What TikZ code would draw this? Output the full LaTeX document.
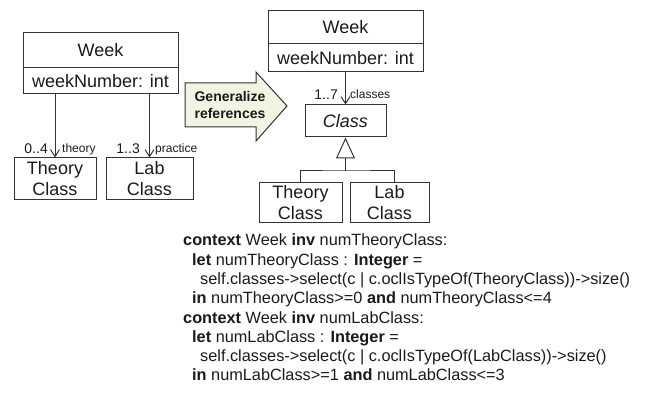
\documentclass[tikz,border=0pt]{standalone}
\usepackage{fontspec}
\setmainfont{Liberation Sans}
\usetikzlibrary{arrows.meta,calc}
\definecolor{ln}{HTML}{333333}
\definecolor{tx}{HTML}{1A1A1A}
\definecolor{genfill}{HTML}{F1F4E2}
\begin{document}
\begin{tikzpicture}[x=1pt,y=-1pt,
  every node/.style={text=tx},
  cbox/.style={draw=ln,line width=1pt,inner sep=0pt,font=\fontsize{18}{21}\selectfont,align=center},
  nav/.style={draw=ln,line width=1pt,-{Straight Barb[length=7pt,width=9pt,line width=1pt]}},
  mult/.style={font=\fontsize{14}{16}\selectfont,inner sep=0pt},
  role/.style={font=\fontsize{12}{14}\selectfont,inner sep=0pt},
  ocl/.style={font=\fontsize{16.3}{19}\selectfont,inner sep=0pt,anchor=base west}
]
\useasboundingbox (0,0) rectangle (648,395);
% ---------- left model ----------
\node[cbox,minimum width=155pt,minimum height=35pt] (w1) at (100.5,50.5) {Week};
\node[cbox,minimum width=155pt,minimum height=26pt] (w1a) at (100.5,81) {weekNumber: int};
\node[cbox,minimum width=82pt,minimum height=42pt] (tc1) at (55,179) {Theory\\Class};
\node[cbox,minimum width=87pt,minimum height=42pt] (lc1) at (149.5,179) {Lab\\Class};
\draw[nav] (tc1.north |- w1a.south) -- (tc1.north);
\draw[nav] (lc1.north |- w1a.south) -- (lc1.north);
\node[mult,anchor=base east] (m1) at (48,154) {0..4};
\node[role,anchor=base west] (r1) at (62,153) {theory};
\node[mult,anchor=base east] (m2) at (140,154) {1..3};
\node[role,anchor=base west] (r2) at (155,153) {practice};
% ---------- generalize arrow ----------
\draw[draw=ln,line width=1pt,fill=genfill,line join=miter]
  (185,83) -- (256,83) -- (256,72) -- (287,106) -- (256,141) -- (256,127) -- (185,127) -- cycle;
\node[font=\fontsize{14}{17}\selectfont\bfseries,align=center,inner sep=0pt] (gen) at (230,104.5) {Generalize\\references};
% ---------- right model ----------
\node[cbox,minimum width=155pt,minimum height=33pt] (w2) at (345.5,27.5) {Week};
\node[cbox,minimum width=155pt,minimum height=28pt] (w2a) at (345.5,58) {weekNumber: int};
\node[cbox,minimum width=81pt,minimum height=32pt,font=\fontsize{18}{21}\selectfont\itshape] (cls) at (345.5,121) {Class};
\draw[nav] (cls.north |- w2a.south) -- (cls.north);
\node[mult,anchor=base east] (m3) at (338,100) {1..7};
\node[role,anchor=base west] (r3) at (350,99) {classes};
\node[cbox,minimum width=83pt,minimum height=40pt] (tc2) at (300.5,203) {Theory\\Class};
\node[cbox,minimum width=79pt,minimum height=40pt] (lc2) at (389.5,203) {Lab\\Class};
\coordinate (j) at (cls.south |- 0,171);
\draw[draw=ln,line width=1pt,-{Triangle[open,length=21pt,width=19pt,line width=1pt]}] (j) -- (cls.south);
\draw[draw=ln,line width=1pt] (tc2.north) |- (j) -| ([xshift=4.5pt]lc2.north);
% ---------- OCL ----------
\node[ocl] (o1) at (183,246) {\textbf{context} Week \textbf{inv} numTheoryClass:};
\node[ocl] (o2) at (192,265.3) {\textbf{let} numTheoryClass : \textbf{Integer} =};
\node[ocl] (o3) at (200,284.6) {self.classes->select(c | c.oclIsTypeOf(TheoryClass))->size()};
\node[ocl] (o4) at (192,303.9) {\textbf{in} numTheoryClass>=0 \textbf{and} numTheoryClass<=4};
\node[ocl] (o5) at (183,323.1) {\textbf{context} Week \textbf{inv} numLabClass:};
\node[ocl] (o6) at (192,342.4) {\textbf{let} numLabClass : \textbf{Integer} =};
\node[ocl] (o7) at (200,361.7) {self.classes->select(c | c.oclIsTypeOf(LabClass))->size()};
\node[ocl] (o8) at (192,381) {\textbf{in} numLabClass>=1 \textbf{and} numLabClass<=3};
\end{tikzpicture}
\end{document}
